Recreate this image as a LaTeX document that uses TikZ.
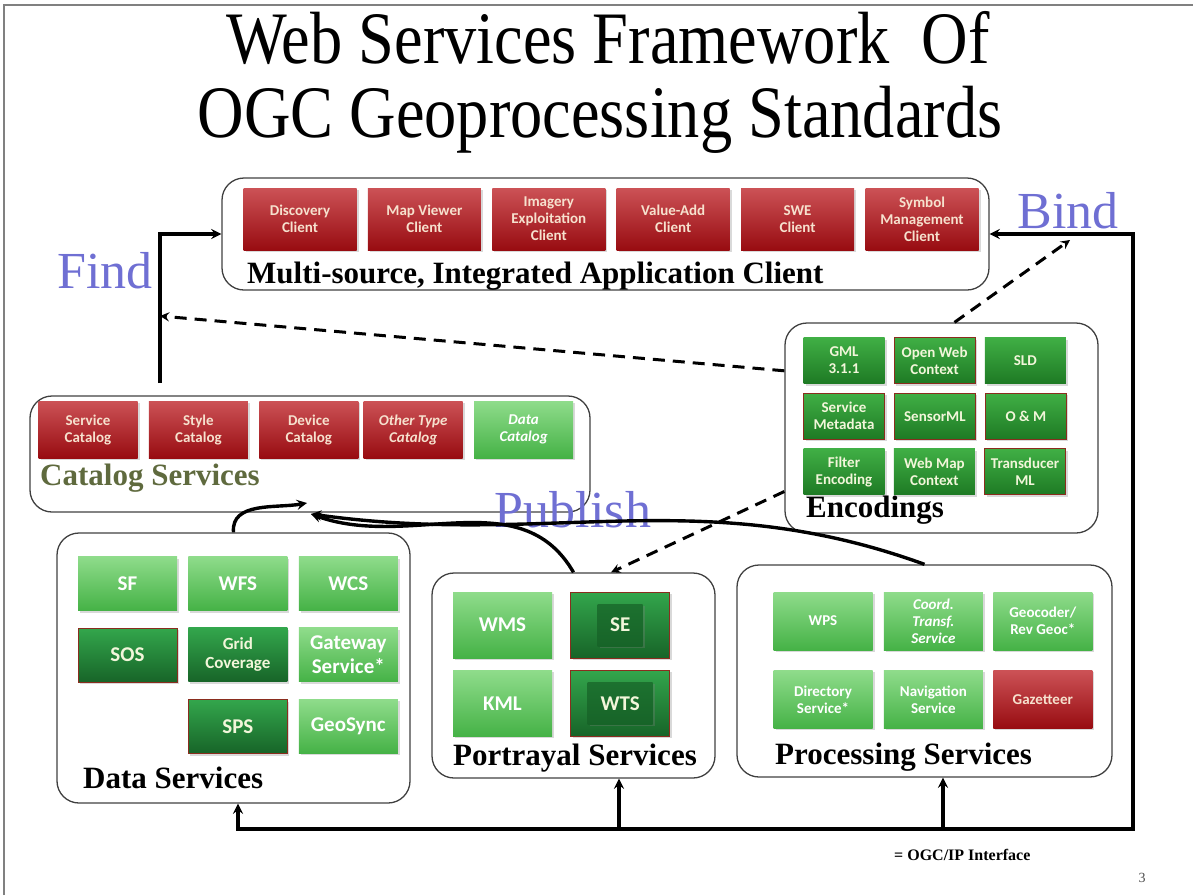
\documentclass[tikz,border=0pt]{standalone}
\usepackage{fontspec}
\setmainfont{Liberation Serif}
\newfontfamily\boxfamily{Carlito}
\usetikzlibrary{arrows,shapes,positioning,shadows}

\definecolor{redtop}{HTML}{CC5256}
\definecolor{redbottom}{HTML}{980C11}
\definecolor{redtext}{HTML}{F6E1CE}
\definecolor{lighttop}{HTML}{8FDC8B}
\definecolor{lightbottom}{HTML}{45B246}
\definecolor{deeptop}{HTML}{40AF45}
\definecolor{deepbottom}{HTML}{1E7A24}
\definecolor{darktop}{HTML}{33A64C}
\definecolor{darkbottom}{HTML}{176428}
\definecolor{deeptext}{HTML}{F2F6DA}
\definecolor{rimred}{HTML}{8A2D1E}
\definecolor{verbblue}{HTML}{6F6FD3}
\definecolor{catalogolive}{HTML}{5F6A3E}

\newcommand{\boxtext}{\boxfamily\bfseries\fontsize{15}{17}\selectfont}
\newcommand{\bigboxtext}{\boxfamily\bfseries\fontsize{21}{24}\selectfont}
\newcommand{\headtext}{\bfseries\fontsize{31}{35}\selectfont}
\newcommand{\verbtext}{\fontsize{52}{60}\selectfont}
\newcommand{\titletext}{\fontsize{74}{84}\selectfont}

\begin{document}
\begin{tikzpicture}[x=1pt, y=-1pt, >=stealth,
    container/.style={draw=black!75, line width=1.3pt, rounded corners=22pt},
    box/.style={rectangle, align=center, inner sep=1pt, font=\boxtext,
      drop shadow={opacity=0.3, shadow xshift=2pt, shadow yshift=-2pt}},
    redbox/.style={box, top color=redtop, bottom color=redbottom, text=redtext},
    lightbox/.style={box, top color=lighttop, bottom color=lightbottom, text=white},
    deepbox/.style={box, top color=deeptop, bottom color=deepbottom, text=deeptext},
    darkbox/.style={box, top color=darktop, bottom color=darkbottom, text=deeptext},
    core/.style={box, top color=darkbottom!80!darktop, bottom color=darkbottom, text=deeptext, font=\bigboxtext},
    rim/.style={draw=rimred, line width=0.9pt},
    client/.style={minimum width=113pt, minimum height=62pt},
    catalog/.style={minimum width=99pt, minimum height=57pt},
    encoding/.style={minimum width=81pt, minimum height=46pt},
    dataserv/.style={minimum width=99pt, minimum height=54pt, font=\bigboxtext},
    portray/.style={minimum width=99pt, minimum height=66pt, font=\bigboxtext},
    process/.style={minimum width=99pt, minimum height=58pt},
    heading/.style={anchor=base west, inner sep=0pt, font=\headtext},
    verb/.style={anchor=base, font=\verbtext, text=verbblue},
    title/.style={anchor=base, font=\titletext, transform shape, xscale=0.87},
    link/.style={->, line width=3.4pt},
    hint/.style={->, line width=3pt, dash pattern=on 12pt off 8pt}]
    \useasboundingbox (0,0) rectangle (1193,895);
    \draw[gray, line width=1.5pt] (4,895) -- (4,5) -- (1193,5);

    % Define title
    \node[title] (Title_Top) at (608,63) {Web Services Framework\ \ Of};
    \node[title] (Title_Bottom) at (600,137) {OGC Geoprocessing Standards};

    % Define containers
    \node[container, minimum width=767pt, minimum height=112pt] (Application_Client) at (605.5,234) {};
    \node[container, minimum width=560pt, minimum height=116pt] (Catalog_Services) at (310,454) {};
    \node[container, minimum width=313pt, minimum height=210pt] (Encodings) at (941.5,428) {};
    \node[container, minimum width=353pt, minimum height=270pt] (Data_Services) at (233.5,668) {};
    \node[container, minimum width=283pt, minimum height=205pt] (Portrayal_Services) at (573.5,675.5) {};
    \node[container, minimum width=375pt, minimum height=212pt] (Processing_Services) at (924.5,671) {};

    % Define clients
    \node[redbox, client] (Discovery) at (300,219) {Discovery\\Client};
    \node[redbox, client, right=11pt of Discovery] (Map_Viewer) {Map Viewer\\Client};
    \node[redbox, client, right=11pt of Map_Viewer] (Imagery) {Imagery\\Exploitation\\Client};
    \node[redbox, client, right=11pt of Imagery] (Value_Add) {Value-Add\\Client};
    \node[redbox, client, right=11pt of Value_Add] (SWE_Client) {SWE\\Client};
    \node[redbox, client, right=11pt of SWE_Client] (Symbol_Mgmt) {Symbol\\Management\\Client};
    \node[heading] (Client_Label) at (247,283) {Multi-source, Integrated Application Client};

    % Define catalogs
    \node[redbox, catalog] (Service_Catalog) at (88,429.5) {Service\\Catalog};
    \node[redbox, catalog, right=11pt of Service_Catalog] (Style_Catalog) {Style\\Catalog};
    \node[redbox, catalog, right=11pt of Style_Catalog] (Device_Catalog) {Device\\Catalog};
    \node[redbox, catalog, right=5pt of Device_Catalog] (Other_Catalog) {\itshape Other Type\\\itshape Catalog};
    \node[lightbox, catalog, right=11pt of Other_Catalog] (Data_Catalog) {\itshape Data\\\itshape Catalog};
    \node[heading, text=catalogolive] (Catalog_Label) at (40,485) {Catalog Services};

    % Define encodings
    \node[deepbox, encoding] (GML) at (844,360.5) {GML\\3.1.1};
    \node[deepbox, encoding, rim, right=9pt of GML] (OWC) {Open Web\\Context};
    \node[deepbox, encoding, right=9pt of OWC] (SLD) {SLD};
    \node[deepbox, encoding, rim, below=9pt of GML] (Service_Metadata) {Service\\Metadata};
    \node[deepbox, encoding, rim, right=9pt of Service_Metadata] (SensorML) {SensorML};
    \node[deepbox, encoding, rim, right=9pt of SensorML] (OM) {O \& M};
    \node[deepbox, encoding, below=9pt of Service_Metadata] (Filter) {Filter\\Encoding};
    \node[deepbox, encoding, right=9pt of Filter] (WMC) {Web Map\\Context};
    \node[deepbox, encoding, rim, right=9pt of WMC] (TML) {Transducer\\ML};
    \node[heading] (Encodings_Label) at (806,517) {Encodings};

    % Define data services
    \node[lightbox, dataserv] (SF) at (127.5,583.5) {SF};
    \node[lightbox, dataserv, right=11pt of SF] (WFS) {WFS};
    \node[lightbox, dataserv, right=11pt of WFS] (WCS) {WCS};
    \node[darkbox, dataserv, rim, below=17pt of SF] (SOS) {SOS};
    \node[darkbox, dataserv, font=\boxfamily\bfseries\fontsize{17}{19}\selectfont, below=17pt of WFS] (Grid_Coverage) {Grid\\Coverage};
    \node[lightbox, dataserv, below=17pt of WCS] (Gateway) {Gateway\\Service*};
    \node[darkbox, dataserv, rim, below=17pt of Grid_Coverage] (SPS) {SPS};
    \node[lightbox, dataserv, below=17pt of Gateway] (GeoSync) {GeoSync};
    \node[heading] (Data_Label) at (83,788) {Data Services};

    % Define portrayal services
    \node[lightbox, portray] (WMS) at (502.5,625) {WMS};
    \node[darkbox, portray, rim, right=18pt of WMS] (SE) {};
    \node[core, minimum width=45pt, minimum height=42pt] (SE_Core) at (SE) {SE};
    \node[lightbox, portray, below=12pt of WMS] (KML) {KML};
    \node[darkbox, portray, rim, right=18pt of KML] (WTS) {};
    \node[core, minimum width=65pt, minimum height=42pt] (WTS_Core) at (WTS) {WTS};
    \node[heading] (Portrayal_Label) at (453,765) {Portrayal Services};

    % Define processing services
    \node[lightbox, process] (WPS) at (823,621) {WPS};
    \node[lightbox, process, right=11pt of WPS] (Coord_Transf) {\itshape Coord.\\\itshape Transf.\\\itshape Service};
    \node[lightbox, process, right=10pt of Coord_Transf] (Geocoder) {Geocoder/\\Rev Geoc*};
    \node[lightbox, process, below=20pt of WPS] (Directory) {Directory\\Service*};
    \node[lightbox, process, below=20pt of Coord_Transf] (Navigation) {Navigation\\Service};
    \node[redbox, process, below=20pt of Geocoder] (Gazetteer) {Gazetteer};
    \node[heading] (Processing_Label) at (775,764) {Processing Services};

    % Define verbs
    \node[verb] (Find) at (105,288) {Find};
    \node[verb] (Bind) at (1068,228) {Bind};
    \node[verb] (Publish) at (573,527) {Publish};

    % Define transitions
    \coordinate (find_foot) at (160,383);
    \coordinate (find_mid) at (160,316);
    \coordinate (bind_mark) at (1070,240);
    \coordinate (bus_left) at (238,829);
    \coordinate (bus_right) at (1133,829);
    \coordinate (tap_portrayal) at (619,829);
    \coordinate (tap_processing) at (943,829);
    \coordinate (pub_data) at (307,503);
    \coordinate (pub_service) at (311,514);

    \draw[link] (find_foot) |- (Application_Client.west);
    \draw[hint] (Encodings.160) -- (find_mid);
    \draw[hint] (Encodings.83) -- (bind_mark);
    \draw[hint] (Encodings.202) -- (Portrayal_Services.70);
    \draw[<->, line width=3.4pt] (bus_left |- Data_Services.south) -- (bus_left) -- (bus_right) |- (Application_Client.east);
    \draw[link] (tap_portrayal) -- (tap_portrayal |- Portrayal_Services.south);
    \draw[link] (tap_processing) -- (tap_processing |- Processing_Services.south);
    \draw[link] (Data_Services.north) to[out=95, in=190] (pub_data);
    \draw[link] (Portrayal_Services.north) to[out=120, in=-20] (pub_service);
    \draw[link] (Processing_Services.north) to[out=160, in=-8] (pub_service);

    % Define footer
    \node[anchor=base west, inner sep=0pt, font=\bfseries\fontsize{16}{18}\selectfont] (Legend) at (894,860) {= OGC/IP Interface};
    \node[anchor=base, text=black!70, font=\fontsize{14}{16}\selectfont] (Page_Number) at (1142,882) {3};
\end{tikzpicture}
\end{document}
